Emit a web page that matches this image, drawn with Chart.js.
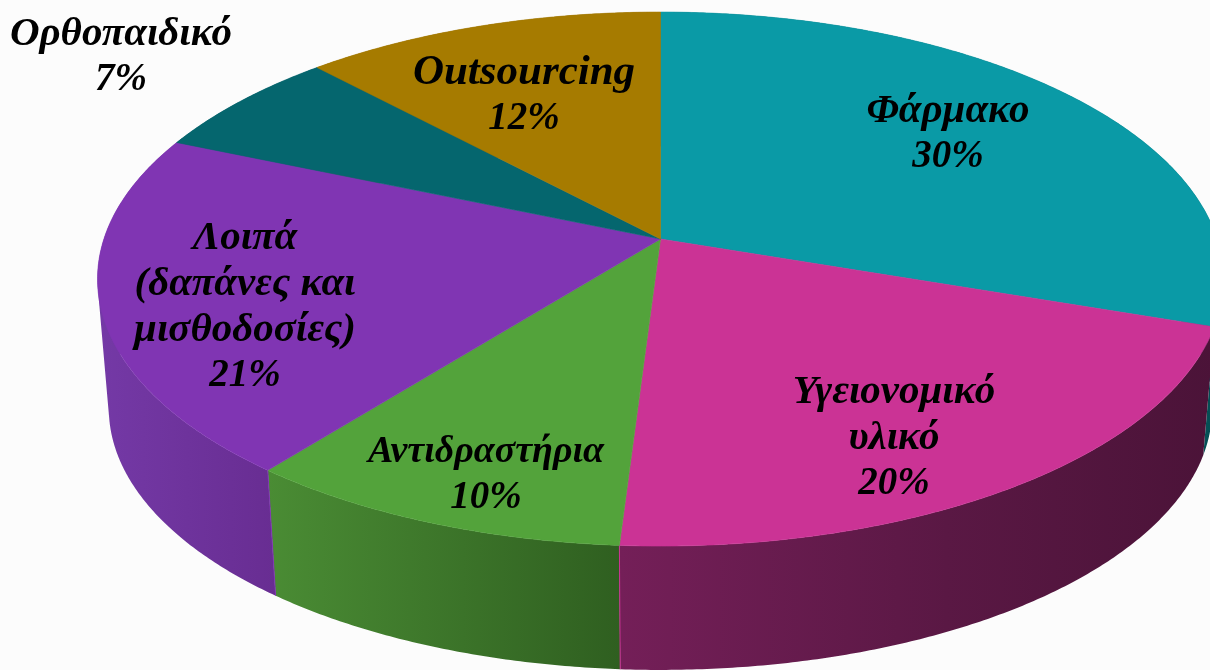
<!DOCTYPE html>
<html lang="el">
<head>
<meta charset="utf-8">
<title>Κατανομή δαπανών</title>
<script src="https://cdn.jsdelivr.net/npm/chart.js@4"></script>
<style>
html,body{margin:0;padding:0;background:#fcfcfc;overflow:hidden}
canvas{display:block}
</style>
</head>
<body>
<canvas id="c" width="1210" height="670"></canvas>
<script>
const categories = ['Φάρμακο', 'Υγειονομικό υλικό', 'Αντιδραστήρια', 'Λοιπά (δαπάνες και μισθοδοσίες)', 'Ορθοπαιδικό', 'Outsourcing'];
const sliceShares = [30.2, 20.8, 9.7, 20.7, 6.6, 12.0];
// Percentages as printed on the chart
const printedPercents = [30, 20, 10, 21, 7, 12];
const labelLines = [['Φάρμακο'], ['Υγειονομικό', 'υλικό'], ['Αντιδραστήρια'], ['Λοιπά', '(δαπάνες και', 'μισθοδοσίες)'], ['Ορθοπαιδικό'], ['Outsourcing']];

const topColors = ['#0a9aa6', '#cb3395', '#53a33b', '#8035b3', '#05666e', '#a67b00'];
const wallColors = [['#055a60', '#044c52'], ['#741f58', '#4b1338'], ['#4a8c34', '#2f5f20'], ['#7439a6', '#682d92'], ['#04525a', '#04525a'], ['#856200', '#856200']];
const labelAnchors = [[948, 111], [894, 392], [486, 452], [245, 238], [121, 34], [524, 73]];
const labelSizes = [41, 41, 38, 41, 41, 43];
const percentSize = 39;
const lineStep = 46;

const view = {cx: 660.5, cy: 239, R: 556.6, a: 261, k: 0.15, baseScale: 0.98, baseDrop: 130};

function project(theta, base) {
  const u = Math.sin(theta), v = -Math.cos(theta);
  const d = 1 - view.k * v;
  let x = view.R * u / d, y = view.a * v / d;
  if (base) { x *= view.baseScale; y = y * view.baseScale + view.baseDrop; }
  return [view.cx + x, view.cy + y];
}
function rimPoints(t0, t1, base) {
  const n = Math.max(2, Math.ceil((t1 - t0) / 0.008));
  const pts = [];
  for (let i = 0; i <= n; i++) pts.push(project(t0 + (t1 - t0) * i / n, base));
  return pts;
}
// Adds one wall segment to the path, always wound the same way so that
// overlapping segments at the silhouette fill instead of cancelling.
function addQuad(ctx, q) {
  let area = 0;
  q.forEach((p, i) => { const n = q[(i + 1) % 4]; area += p[0] * n[1] - n[0] * p[1]; });
  const pts = area < 0 ? q.slice().reverse() : q;
  pts.forEach((p, i) => i ? ctx.lineTo(p[0], p[1]) : ctx.moveTo(p[0], p[1]));
  ctx.closePath();
}

const pie3d = {
  id: 'pie3d',
  beforeDatasetsDraw(chart) {
    const ctx = chart.ctx;
    const arcs = chart.getDatasetMeta(0).data;
    const angle = a => a + Math.PI / 2;
    // Walls, back to front; the top faces cover whatever is hidden
    [4, 5, 0, 3, 2, 1].forEach(i => {
      const t0 = angle(arcs[i].startAngle), t1 = angle(arcs[i].endAngle);
      const top = rimPoints(t0, t1, false), bot = rimPoints(t0, t1, true);
      const all = top.concat(bot);
      // Shading runs over the part of the rim that faces the viewer
      const front = all.filter(p => p[1] > 300);
      const xs = (front.length ? front : all).map(p => p[0]);
      const x0 = Math.min(...xs), x1 = Math.max(...xs);
      const shade = ctx.createLinearGradient(x0, 0, x1, 0);
      shade.addColorStop(0, wallColors[i][0]);
      if (i === 1) shade.addColorStop(0.55, '#5a1844');
      shade.addColorStop(1, wallColors[i][1]);
      ctx.beginPath();
      for (let j = 0; j < top.length - 1; j++) addQuad(ctx, [top[j], top[j + 1], bot[j + 1], bot[j]]);
      ctx.fillStyle = shade;
      ctx.fill();
    });
    // Lit wall edges
    [[1, 'endAngle'], [3, 'startAngle']].forEach(([i, key]) => {
      const t = angle(arcs[i][key]);
      const a = project(t, false), b = project(t, true);
      ctx.beginPath();
      ctx.moveTo(a[0], a[1]);
      ctx.lineTo(b[0], b[1]);
      ctx.strokeStyle = topColors[i];
      ctx.lineWidth = 1;
      ctx.stroke();
    });
    // Top faces
    arcs.forEach((arc, i) => {
      const pts = rimPoints(angle(arc.startAngle), angle(arc.endAngle), false);
      ctx.beginPath();
      ctx.moveTo(view.cx, view.cy);
      pts.forEach(p => ctx.lineTo(p[0], p[1]));
      ctx.closePath();
      ctx.fillStyle = topColors[i];
      ctx.fill();
      ctx.strokeStyle = topColors[i];
      ctx.lineWidth = 0.6;
      ctx.stroke();
    });
    return false;
  },
  afterDraw(chart) {
    const ctx = chart.ctx;
    ctx.save();
    ctx.fillStyle = '#000';
    ctx.textAlign = 'center';
    ctx.textBaseline = 'middle';
    labelLines.forEach((lines, i) => {
      const [x, y] = labelAnchors[i];
      ctx.font = 'italic bold ' + labelSizes[i] + 'px "Liberation Serif"';
      lines.forEach((t, j) => ctx.fillText(t, x, y + j * lineStep));
      ctx.font = 'italic bold ' + percentSize + 'px "Liberation Serif"';
      ctx.fillText(printedPercents[i] + '%', x, y + lines.length * lineStep);
    });
    ctx.restore();
  }
};

new Chart(document.getElementById('c'), {
  type: 'pie',
  data: {labels: categories, datasets: [{data: sliceShares, backgroundColor: topColors, borderWidth: 0}]},
  options: {
    responsive: false,
    animation: false,
    events: [],
    plugins: {legend: {display: false}, tooltip: {enabled: false}, title: {display: false}}
  },
  plugins: [pie3d]
});
</script>
</body>
</html>
